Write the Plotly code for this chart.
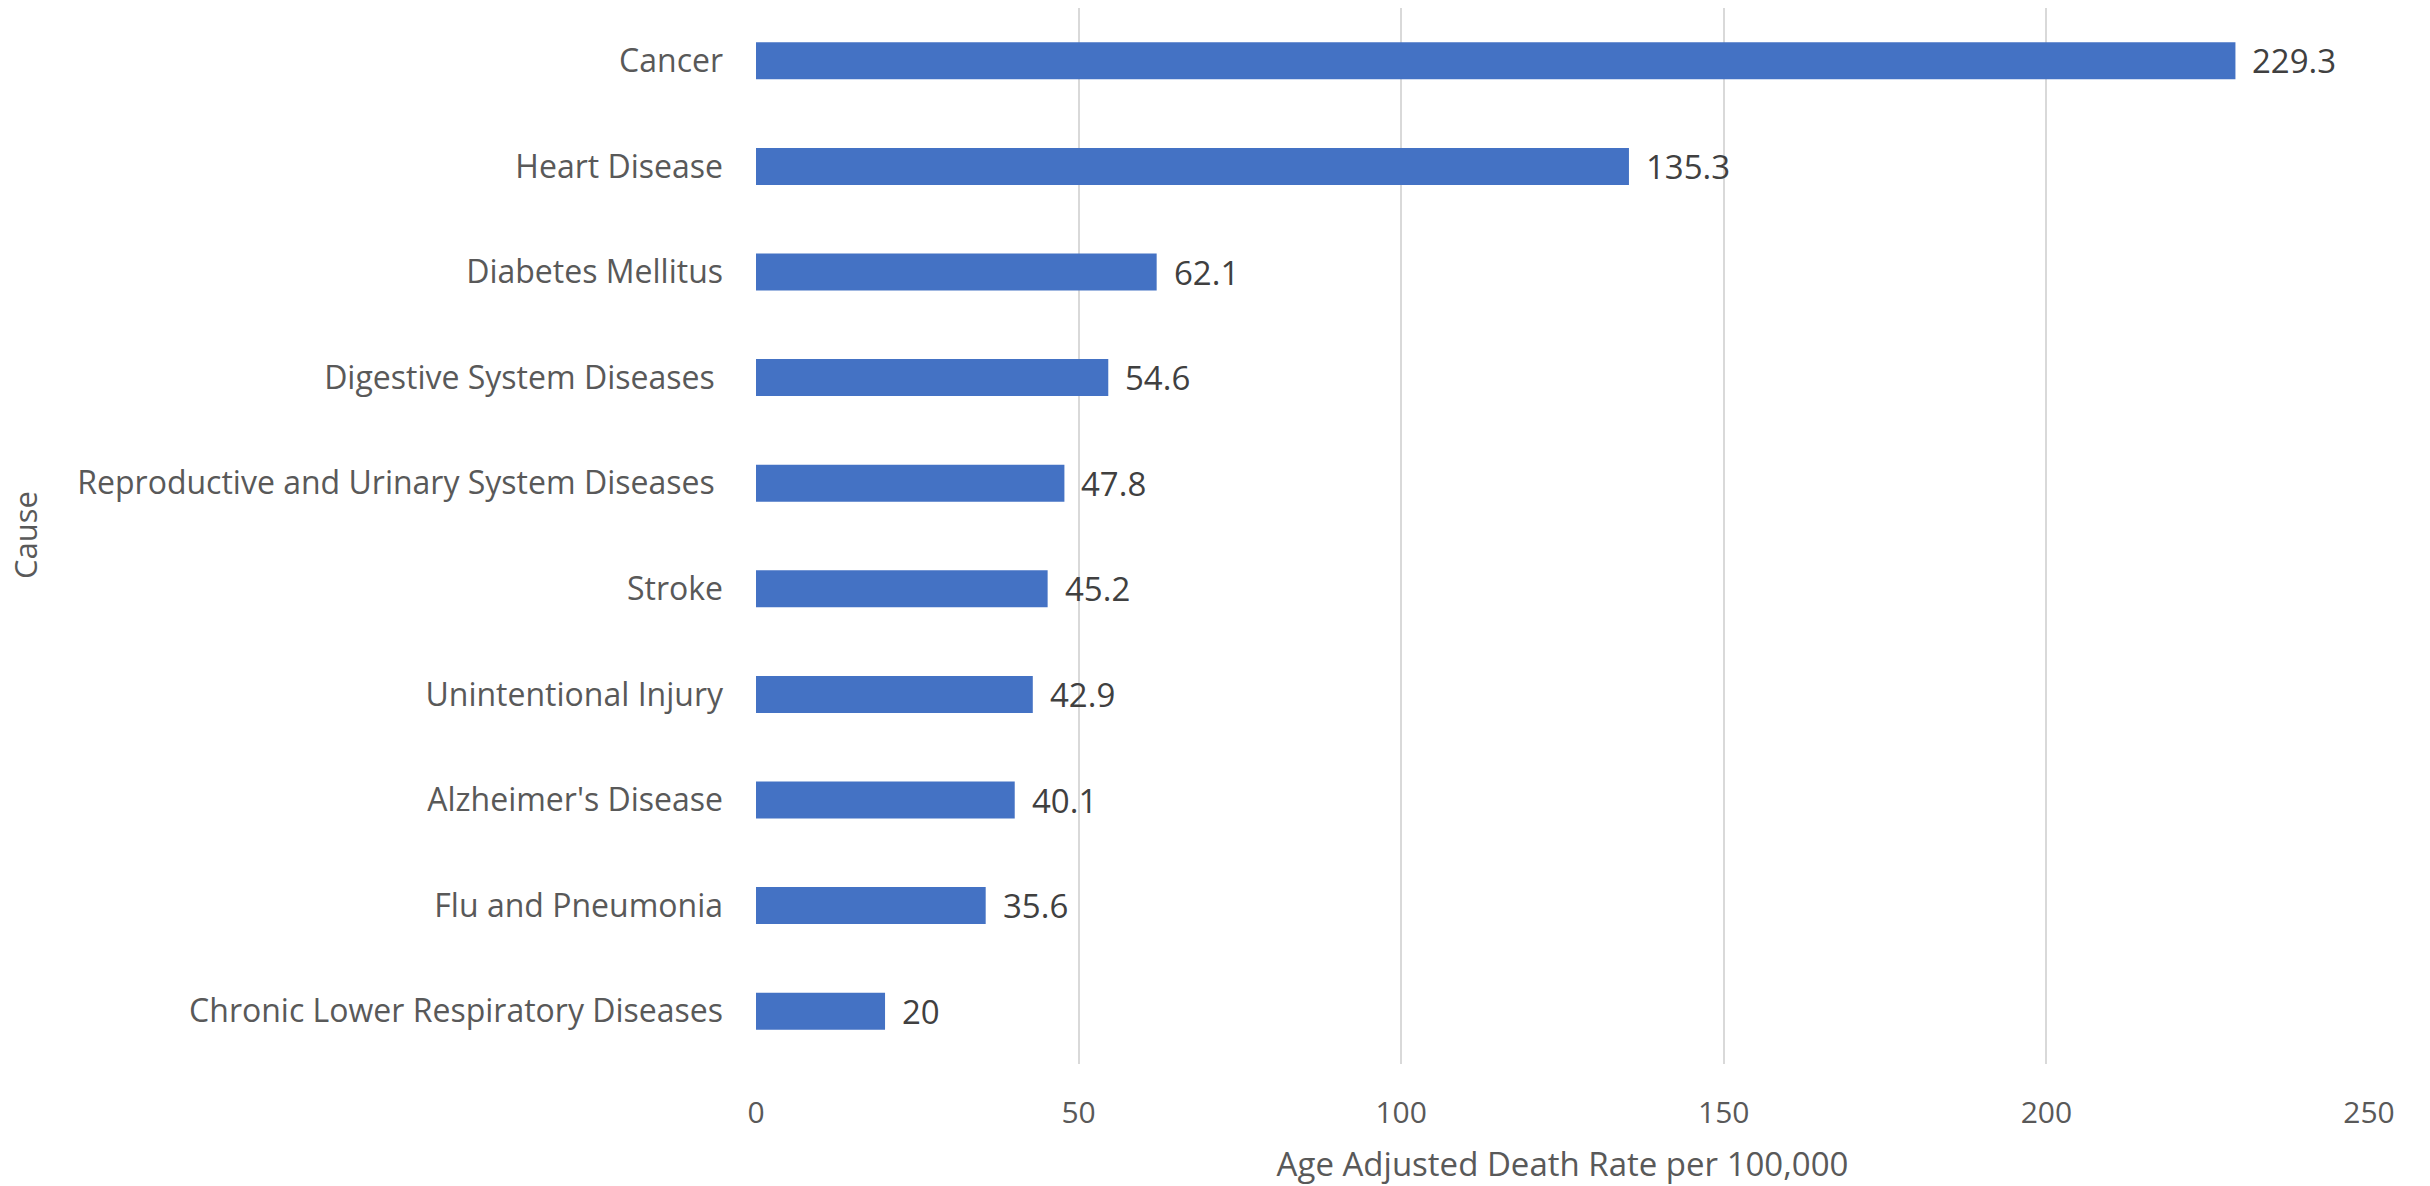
import plotly.graph_objects as go

causes = [
    "Cancer",
    "Heart Disease",
    "Diabetes Mellitus",
    "Digestive System Diseases\u00a0",
    "Reproductive and Urinary System Diseases\u00a0",
    "Stroke",
    "Unintentional Injury",
    "Alzheimer's Disease",
    "Flu and Pneumonia",
    "Chronic Lower Respiratory Diseases",
]
rates = [229.3, 135.3, 62.1, 54.6, 47.8, 45.2, 42.9, 40.1, 35.6, 20]
x_ticks = [0, 50, 100, 150, 200, 250]

FONT = "Open Sans"
GREY = "#595959"
W, H = 2430, 1186
ML, MR, MT, MB = 756, 61, 8, 122

fig = go.Figure(
    go.Bar(
        x=rates,
        y=causes,
        orientation="h",
        width=0.35,
        marker=dict(color="#4472C4", line=dict(width=0)),
        hoverinfo="x+y",
    )
)

# data labels to the right of each bar
for c, v in zip(causes, rates):
    fig.add_annotation(
        x=v, y=c, xref="x", yref="y",
        text=f"{v:g}", showarrow=False,
        xanchor="left", yanchor="middle", xshift=15,
        font=dict(family=FONT, size=33, color="#404040"),
    )

# y-axis title
fig.add_annotation(
    x=(25 - ML) / (W - ML - MR), y=1 - (535 - MT) / (H - MT - MB),
    xref="paper", yref="paper",
    text="Cause", showarrow=False, textangle=-90,
    xanchor="center", yanchor="middle",
    font=dict(family=FONT, size=31, color=GREY),
)

fig.update_layout(
    width=W,
    height=H,
    margin=dict(l=ML, r=MR, t=MT, b=MB),
    paper_bgcolor="white",
    plot_bgcolor="white",
    showlegend=False,
    font=dict(family=FONT, color=GREY),
    xaxis=dict(
        range=[0, 250],
        tickvals=x_ticks,
        showgrid=True,
        gridcolor="#D9D9D9",
        gridwidth=2,
        zeroline=False,
        showline=False,
        automargin=False,
        tickfont=dict(family=FONT, size=30, color=GREY),
        ticklabelstandoff=28,
        title=dict(text="Age Adjusted Death Rate per 100,000",
                   font=dict(family=FONT, size=33, color=GREY),
                   standoff=30),
    ),
    yaxis=dict(
        autorange="reversed",
        showgrid=False,
        showline=False,
        zeroline=False,
        automargin=False,
        tickfont=dict(family=FONT, size=32, color=GREY),
        ticklabelstandoff=32,
    ),
)

fig.write_html(
    "out.html",
    config={"displayModeBar": False},
    post_script="document.body.style.margin='0';document.body.style.overflow='hidden';",
)
